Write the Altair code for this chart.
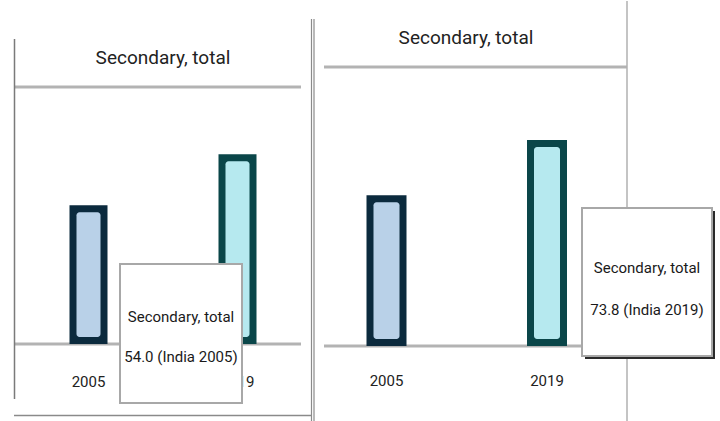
import altair as alt
import pandas as pd

# ---- data ----
years = ["2005", "2019"]
values = [54.0, 73.8]
series_name = "Secondary, total"
country = "India"
fill_colors = ["#b9d1e8", "#b6e9ef"]
stroke_colors = ["#0b2a3d", "#0a4649"]

df = pd.DataFrame({
    "year": years,
    "value": values,
    "base": [0.0] * len(years),
    "fill": fill_colors,
    "stroke": stroke_colors,
    "label": [f"{v:.1f} ({country} {y})" for v, y in zip(values, years)],
    "series": [series_name] * len(years),
})

FONT = "Liberation Sans Narrow, Roboto, sans-serif"
H = 421


def rule(x1, x2, y1, y2, color, width):
    return alt.Chart(pd.DataFrame({"k": [0]})).mark_rule(
        color=color, strokeWidth=width
    ).encode(x=alt.value(x1), x2=alt.value(x2), y=alt.value(y1), y2=alt.value(y2))


def panel(width, xr, yr, bar_w, title_xy, grid_x, label_y, tip, line_y, tip_year,
          borders, shadow):
    xs = alt.Scale(domain=years, range=xr, paddingInner=0, paddingOuter=0)
    ys = alt.Scale(domain=[0, 100], range=yr)

    grid = alt.Chart(pd.DataFrame({"v": [0, 100]})).mark_rule(
        color="#b3b3b3", strokeWidth=3
    ).encode(
        y=alt.Y("v:Q", scale=ys, axis=None),
        x=alt.value(grid_x[0]), x2=alt.value(grid_x[1]),
    )

    def enc():
        return dict(
            x=alt.X("year:N", scale=xs, axis=None),
            y=alt.Y("value:Q", scale=ys, axis=None, stack=None),
            y2=alt.Y2("base:Q"),
        )

    bars_outer = alt.Chart(df).mark_bar(width=bar_w).encode(
        color=alt.Color("stroke:N", scale=None, legend=None), **enc()
    )
    bars_inner = alt.Chart(df).mark_bar(
        width=bar_w - 14, yOffset=7, y2Offset=-7, cornerRadius=3
    ).encode(color=alt.Color("fill:N", scale=None, legend=None), **enc())

    labels = alt.Chart(df).mark_text(
        font=FONT, fontSize=15, color="#222222", baseline="middle"
    ).encode(
        x=alt.X("year:N", scale=xs, axis=None),
        y=alt.value(label_y),
        text="year:N",
    )

    title = alt.Chart(pd.DataFrame({"t": [series_name]})).mark_text(
        font=FONT, fontSize=19, color="#222222", baseline="middle"
    ).encode(x=alt.value(title_xy[0]), y=alt.value(title_xy[1]), text="t:N")

    tx1, ty1, tx2, ty2 = tip
    layers = [grid, bars_outer, bars_inner, labels, title]
    layers += [rule(*b) for b in borders]
    if shadow:
        layers.append(
            alt.Chart(pd.DataFrame({"k": [0]})).mark_rect(color="#2a2a2a").encode(
                x=alt.value(tx1 + 3), x2=alt.value(tx2 + 3),
                y=alt.value(ty1 + 3), y2=alt.value(ty2 + 3),
            )
        )
    box = alt.Chart(pd.DataFrame({"k": [0]})).mark_rect(
        fill="white", stroke="#a8a8a8", strokeWidth=2
    ).encode(x=alt.value(tx1), x2=alt.value(tx2), y=alt.value(ty1), y2=alt.value(ty2))
    layers.append(box)

    sel = df[df["year"] == tip_year]
    cx = (tx1 + tx2) / 2
    t1 = alt.Chart(sel).mark_text(
        font=FONT, fontSize=15, color="#1a1a1a", baseline="middle"
    ).encode(x=alt.value(cx), y=alt.value(line_y[0]), text="series:N")
    t2 = alt.Chart(sel).mark_text(
        font=FONT, fontSize=15, color="#1a1a1a", baseline="middle"
    ).encode(x=alt.value(cx), y=alt.value(line_y[1]), text="label:N")
    layers += [t1, t2]

    return alt.layer(*layers).properties(width=width, height=H)


left = panel(
    width=313,
    xr=[14, 312],
    yr=[343, 86],
    bar_w=38,
    title_xy=(163, 57),
    grid_x=(15, 301),
    label_y=381,
    tip=(120, 263, 242, 402),
    line_y=(316, 356),
    tip_year="2005",
    borders=[
        (14.5, 14.5, 38, 398, "#7a7a7a", 1.5),
        (14, 312, 414.5, 414.5, "#8a8a8a", 1.5),
        (311.5, 311.5, 18, 421, "#8a8a8a", 1.2),
    ],
    shadow=False,
)

right = panel(
    width=407,
    xr=[-6.75, 314.25],
    yr=[345, 66],
    bar_w=40,
    title_xy=(153, 37),
    grid_x=(11, 314),
    label_y=380,
    tip=(269, 207, 399, 355),
    line_y=(267, 309),
    tip_year="2019",
    borders=[
        (1, 1, 18, 421, "#8a8a8a", 1.2),
        (314, 314, 0, 421, "#b0b0b0", 1.5),
    ],
    shadow=True,
)

chart = alt.hconcat(left, right, spacing=0, bounds="flush").configure_view(
    stroke=None
).properties(padding=0, background="white")

chart.save("out.html", embed_options={"renderer": "svg", "actions": False})
